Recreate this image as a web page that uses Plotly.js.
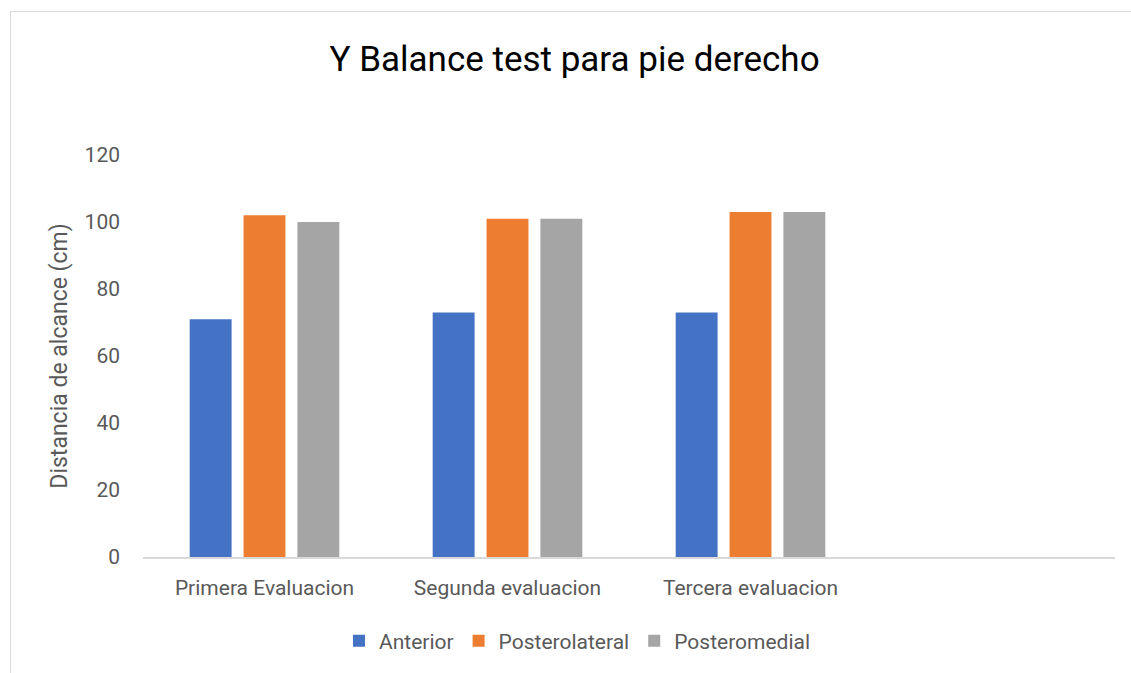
<!DOCTYPE html>
<html>
<head>
<meta charset="utf-8">
<script src="https://cdn.plot.ly/plotly-3.0.1.min.js"></script>
<style>
  html, body { margin: 0; padding: 0; background: #fff; }
  #wrap { position: relative; width: 1131px; height: 673px; overflow: hidden; }
  #frame { position: absolute; left: 10px; top: 11px; width: 1140px; height: 700px; border: 1px solid #d9d9d9; box-sizing: border-box; pointer-events: none; }
  #chart { position: absolute; left: 0; top: 0; width: 1131px; height: 673px; }
</style>
</head>
<body>
<div id="wrap">
  <div id="chart"></div>
  <div id="frame"></div>
</div>
<script>
const categories = ["Primera Evaluacion", "Segunda evaluacion", "Tercera evaluacion"];
const allSlots = ["Primera Evaluacion", "Segunda evaluacion", "Tercera evaluacion", ""];
const seriesNames = ["Anterior", "Posterolateral", "Posteromedial"];
const anterior = [71, 73, 73];
const posterolateral = [102, 101, 103];
const posteromedial = [100, 101, 103];
const colors = ["#4472c4", "#ed7d31", "#a5a5a5"];
const yTicks = [0, 20, 40, 60, 80, 100, 120];

const font = "Roboto, sans-serif";
const seriesValues = [anterior, posterolateral, posteromedial];
const traces = seriesNames.map((name, i) => ({
  type: "bar",
  name: name,
  x: categories,
  y: seriesValues[i],
  marker: { color: colors[i] },
  hoverinfo: "x+y+name"
}));

const layout = {
  width: 1131,
  height: 673,
  paper_bgcolor: "rgba(0,0,0,0)",
  plot_bgcolor: "rgba(0,0,0,0)",
  margin: { l: 143, r: 16, t: 155, b: 116, pad: 0 },
  barmode: "group",
  bargap: 0.335,
  bargroupgap: 0.222,
  title: {
    text: "Y Balance test para pie derecho",
    font: { family: font, size: 35, color: "#000000" },
    x: 0.508, xref: "container", xanchor: "center",
    y: 0.913, yref: "container", yanchor: "middle"
  },
  xaxis: {
    type: "category",
    categoryorder: "array",
    categoryarray: allSlots,
    range: [-0.5, 3.5],
    showgrid: false,
    showline: true,
    linecolor: "#d9d9d9",
    linewidth: 1.5,
    ticks: "",
    tickfont: { family: font, size: 21, color: "#595959" },
    ticklabelstandoff: 11,
    zeroline: false,
    fixedrange: true
  },
  yaxis: {
    range: [0, 120],
    tickvals: yTicks,
    ticktext: yTicks.map(String),
    showgrid: false,
    showline: false,
    zeroline: false,
    ticks: "",
    tickfont: { family: font, size: 21, color: "#595959" },
    ticklabelstandoff: 22,
    title: {
      text: "Distancia de alcance (cm)",
      font: { family: font, size: 23, color: "#595959" },
      standoff: 10
    },
    fixedrange: true
  },
  showlegend: true,
  legend: {
    orientation: "h",
    x: 0.447, xref: "paper", xanchor: "center",
    y: -0.209, yref: "paper", yanchor: "middle",
    font: { family: font, size: 21, color: "#595959" },
    itemwidth: 30,
    traceorder: "normal"
  }
};

Plotly.newPlot("chart", traces, layout, { displayModeBar: false, staticPlot: true });
</script>
</body>
</html>
